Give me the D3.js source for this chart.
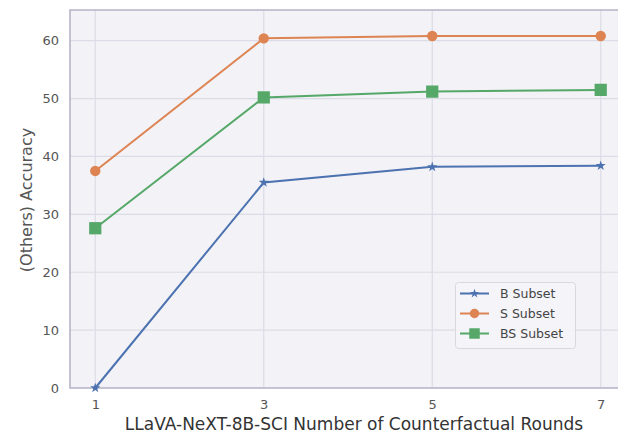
<!DOCTYPE html>
<html>
<head>
<meta charset="utf-8">
<script src="https://cdn.jsdelivr.net/npm/d3@7"></script>
<style>
  html, body { margin: 0; padding: 0; background: #ffffff; }
  svg { display: block; }
</style>
</head>
<body>
<svg id="chart" width="618" height="435"></svg>
<script>
// Counterfactual rounds on the x axis
const rounds = [1, 3, 5, 7];
const xTicks = [1, 3, 5, 7];
const yTicks = [0, 10, 20, 30, 40, 50, 60];

// Accuracy per subset
const bSubset  = [0.0, 35.5, 38.2, 38.4];
const sSubset  = [37.5, 60.4, 60.8, 60.8];
const bsSubset = [27.6, 50.2, 51.2, 51.5];

const seriesNames = ["B Subset", "S Subset", "BS Subset"];
const seriesColors = ["#4c72b0", "#dd8452", "#55a868"];
const seriesMarkers = ["star", "circle", "square"];
const seriesValues = [bSubset, sSubset, bsSubset];

const svg = d3.select("#chart");
const plot = { left: 70, top: 10, right: 626, bottom: 388 };

const x = d3.scaleLinear().domain([0.7, 7.3]).range([plot.left, plot.right]);
const y = d3.scaleLinear().domain([0, 65.3]).range([plot.bottom, plot.top]);

// clip so the axes area is cut by the page edge
svg.append("defs").append("clipPath").attr("id", "clip")
  .append("rect").attr("x", plot.left).attr("y", plot.top)
  .attr("width", plot.right - plot.left).attr("height", plot.bottom - plot.top);

// axes background
svg.append("rect")
  .attr("x", plot.left).attr("y", plot.top)
  .attr("width", plot.right - plot.left).attr("height", plot.bottom - plot.top)
  .attr("fill", "#f2f2f7");

// grid
const grid = svg.append("g").attr("clip-path", "url(#clip)");
grid.selectAll(".gy").data(yTicks).join("line")
  .attr("x1", plot.left).attr("x2", plot.right)
  .attr("y1", d => y(d)).attr("y2", d => y(d))
  .attr("stroke", "#dcdce6").attr("stroke-width", 1.2);
grid.selectAll(".gx").data(xTicks).join("line")
  .attr("x1", d => x(d)).attr("x2", d => x(d))
  .attr("y1", plot.top).attr("y2", plot.bottom)
  .attr("stroke", "#dcdce6").attr("stroke-width", 1.2);

// spines
svg.append("path")
  .attr("d", `M${plot.right},${plot.top}H${plot.left}V${plot.bottom}H${plot.right}`)
  .attr("fill", "none").attr("stroke", "#b4b4c8").attr("stroke-width", 1.6);

// tick labels via d3 axes
const xAxis = d3.axisBottom(x).tickValues(xTicks).tickSize(0).tickPadding(12).tickFormat(d3.format("d"));
const yAxis = d3.axisLeft(y).tickValues(yTicks).tickSize(0).tickPadding(11).tickFormat(d3.format("d"));

const gx = svg.append("g").attr("transform", `translate(0,${plot.bottom})`).call(xAxis);
const gy = svg.append("g").attr("transform", `translate(${plot.left},0)`).call(yAxis);
[gx, gy].forEach(g => {
  g.select(".domain").remove();
  g.selectAll("text")
    .attr("fill", "#555555")
    .style("font-family", "'DejaVu Sans', sans-serif")
    .style("font-size", "13px");
});

// axis titles
svg.append("text")
  .attr("x", 354).attr("y", 430)
  .attr("text-anchor", "middle")
  .attr("fill", "#333333")
  .style("font-family", "'DejaVu Sans', sans-serif")
  .style("font-size", "17px")
  .text("LLaVA-NeXT-8B-SCI Number of Counterfactual Rounds");

svg.append("text")
  .attr("transform", `translate(32,${(plot.top + plot.bottom) / 2 + 1}) rotate(-90)`)
  .attr("text-anchor", "middle")
  .attr("fill", "#555555")
  .style("font-family", "'DejaVu Sans', sans-serif")
  .style("font-size", "16px")
  .text("(Others) Accuracy");

// marker shapes
const symbolFor = {
  star: d3.symbol().type(d3.symbolStar).size(32),
  circle: d3.symbol().type(d3.symbolCircle).size(85),
  square: d3.symbol().type(d3.symbolSquare).size(150)
};
const legendSymbolFor = {
  star: d3.symbol().type(d3.symbolStar).size(26),
  circle: d3.symbol().type(d3.symbolCircle).size(70),
  square: d3.symbol().type(d3.symbolSquare).size(110)
};

const line = d3.line().x(d => x(d[0])).y(d => y(d[1]));
const lines = svg.append("g");

seriesValues.forEach((vals, i) => {
  const pts = rounds.map((r, j) => [r, vals[j]]);
  const g = lines.append("g");
  g.append("path").datum(pts)
    .attr("d", line)
    .attr("fill", "none")
    .attr("stroke", seriesColors[i])
    .attr("stroke-width", 2);
  g.selectAll("path.m").data(pts).join("path")
    .attr("class", "m")
    .attr("transform", d => `translate(${x(d[0])},${y(d[1])})`)
    .attr("d", symbolFor[seriesMarkers[i]]())
    .attr("fill", seriesColors[i]);
});

// legend
const legend = svg.append("g");
legend.append("rect")
  .attr("x", 455.5).attr("y", 282.5).attr("width", 120).attr("height", 66)
  .attr("rx", 3)
  .attr("fill", "#f4f4f8").attr("fill-opacity", 0.9)
  .attr("stroke", "#d8d8e0").attr("stroke-width", 1);

seriesNames.forEach((name, i) => {
  const cy = 293.5 + i * 20;
  legend.append("line")
    .attr("x1", 460).attr("x2", 489).attr("y1", cy).attr("y2", cy)
    .attr("stroke", seriesColors[i]).attr("stroke-width", 2);
  legend.append("path")
    .attr("transform", `translate(474.5,${cy})`)
    .attr("d", legendSymbolFor[seriesMarkers[i]]())
    .attr("fill", seriesColors[i]);
  legend.append("text")
    .attr("x", 500).attr("y", cy + 4.5)
    .attr("fill", "#444444")
    .style("font-family", "'DejaVu Sans', sans-serif")
    .style("font-size", "12.5px")
    .text(name);
});
</script>
</body>
</html>
